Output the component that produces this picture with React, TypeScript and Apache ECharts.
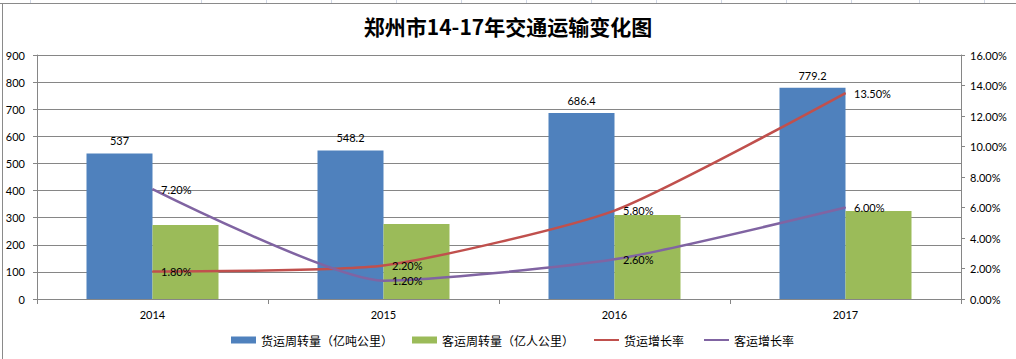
import React, { useEffect, useRef } from "react";
import * as echarts from "echarts";

const years = ["2014", "2015", "2016", "2017"];
const freightTurnover = [537, 548.2, 686.4, 779.2];
const passengerTurnover = [273, 277, 310, 325];
const freightGrowth = [1.8, 2.2, 5.8, 13.5];
const passengerGrowth = [7.2, 1.2, 2.6, 6.0];
const seriesNames = ["货运周转量（亿吨公里）", "客运周转量（亿人公里）", "货运增长率", "客运增长率"];
const colColumns = [30, 201, 266, 331, 396, 461, 526, 591, 656, 721, 786, 851, 919, 984];

const NUM_FONT = "Lato, 'Noto Sans', sans-serif";
const CJK_FONT = "'Noto Sans CJK SC', sans-serif";
const AXIS_GRAY = "#868686";

export default function App() {
  const ref = useRef<HTMLDivElement>(null);
  useEffect(() => {
    if (!ref.current) return;
    const chart = echarts.init(ref.current, undefined, { renderer: "svg" });
    const pct = (v: number) => v.toFixed(2) + "%";
    const graphics: any[] = [
      { type: "line", shape: { x1: 0, y1: 3.5, x2: 1016, y2: 3.5 }, style: { stroke: "#8a8a8a", lineWidth: 1 } },
      { type: "line", shape: { x1: 2.5, y1: 3.5, x2: 2.5, y2: 359 }, style: { stroke: "#8a8a8a", lineWidth: 1 } },
      ...colColumns.map((x) => ({
        type: "line",
        shape: { x1: x + 0.5, y1: 0, x2: x + 0.5, y2: 3 },
        style: { stroke: "#d0d7e5", lineWidth: 1 },
      })),
    ];
    chart.setOption({
      animation: false,
      backgroundColor: "#ffffff",
      title: {
        text: "郑州市14-17年交通运输变化图",
        left: "center",
        top: 15,
        padding: 0,
        textStyle: { fontFamily: CJK_FONT, fontSize: 21, fontWeight: "bold", color: "#000" },
      },
      graphic: graphics,
      legend: {
        left: 231,
        top: 334,
        padding: 0,
        itemWidth: 25,
        itemHeight: 7,
        itemGap: 19,
        textStyle: { fontFamily: CJK_FONT, fontSize: 12, color: "#000" },
        data: [
          { name: seriesNames[0], icon: "rect" },
          { name: seriesNames[1], icon: "rect" },
          { name: seriesNames[2], itemStyle: { opacity: 0 } },
          { name: seriesNames[3], itemStyle: { opacity: 0 } },
        ],
      },
      grid: { left: 37, right: 55, top: 55, bottom: 60 },
      xAxis: {
        type: "category",
        data: years,
        boundaryGap: true,
        axisLine: { lineStyle: { color: AXIS_GRAY } },
        axisTick: { show: true, length: 5, alignWithLabel: false, lineStyle: { color: AXIS_GRAY } },
        axisLabel: { fontFamily: NUM_FONT, fontSize: 11, color: "#000", margin: 10 },
      },
      yAxis: [
        {
          type: "value",
          min: 0,
          max: 900,
          interval: 100,
          axisLine: { show: true, lineStyle: { color: AXIS_GRAY } },
          axisTick: { show: true, length: 4, lineStyle: { color: AXIS_GRAY } },
          axisLabel: { fontFamily: NUM_FONT, fontSize: 11, color: "#000", margin: 12 },
          splitLine: { show: true, lineStyle: { color: AXIS_GRAY, width: 1 } },
        },
        {
          type: "value",
          min: 0,
          max: 16,
          interval: 2,
          position: "right",
          axisLine: { show: true, lineStyle: { color: AXIS_GRAY } },
          axisTick: { show: true, length: 4, lineStyle: { color: AXIS_GRAY } },
          axisLabel: { fontFamily: NUM_FONT, fontSize: 11, color: "#000", margin: 9, formatter: pct },
          splitLine: { show: false },
        },
      ],
      series: [
        {
          name: seriesNames[0],
          type: "bar",
          data: freightTurnover,
          barWidth: 66,
          barGap: "0%",
          itemStyle: { color: "#4F81BD" },
          label: { show: true, position: "top", distance: 7, fontFamily: NUM_FONT, fontSize: 11, color: "#000" },
        },
        {
          name: seriesNames[1],
          type: "bar",
          data: passengerTurnover,
          barWidth: 66,
          barGap: "0%",
          itemStyle: { color: "#9BBB59" },
        },
        {
          name: seriesNames[2],
          type: "line",
          yAxisIndex: 1,
          data: freightGrowth,
          smooth: 0.2,
          symbol: "circle",
          symbolSize: 1,
          itemStyle: { color: "#C0504D" },
          lineStyle: { color: "#C0504D", width: 2.5 },
          label: { show: true, position: "right", distance: 8, fontFamily: NUM_FONT, fontSize: 11, color: "#000", formatter: (p: any) => pct(p.value) },
          z: 5,
        },
        {
          name: seriesNames[3],
          type: "line",
          yAxisIndex: 1,
          data: passengerGrowth,
          smooth: 0.2,
          symbol: "circle",
          symbolSize: 1,
          itemStyle: { color: "#8064A2" },
          lineStyle: { color: "#8064A2", width: 2.5 },
          label: { show: true, position: "right", distance: 8, fontFamily: NUM_FONT, fontSize: 11, color: "#000", formatter: (p: any) => pct(p.value) },
          z: 5,
        },
      ],
    });
    return () => chart.dispose();
  }, []);
  return (
    <div
      ref={ref}
      style={{ position: "absolute", left: 0, top: 0, width: 1016, height: 359 }}
    />
  );
}
